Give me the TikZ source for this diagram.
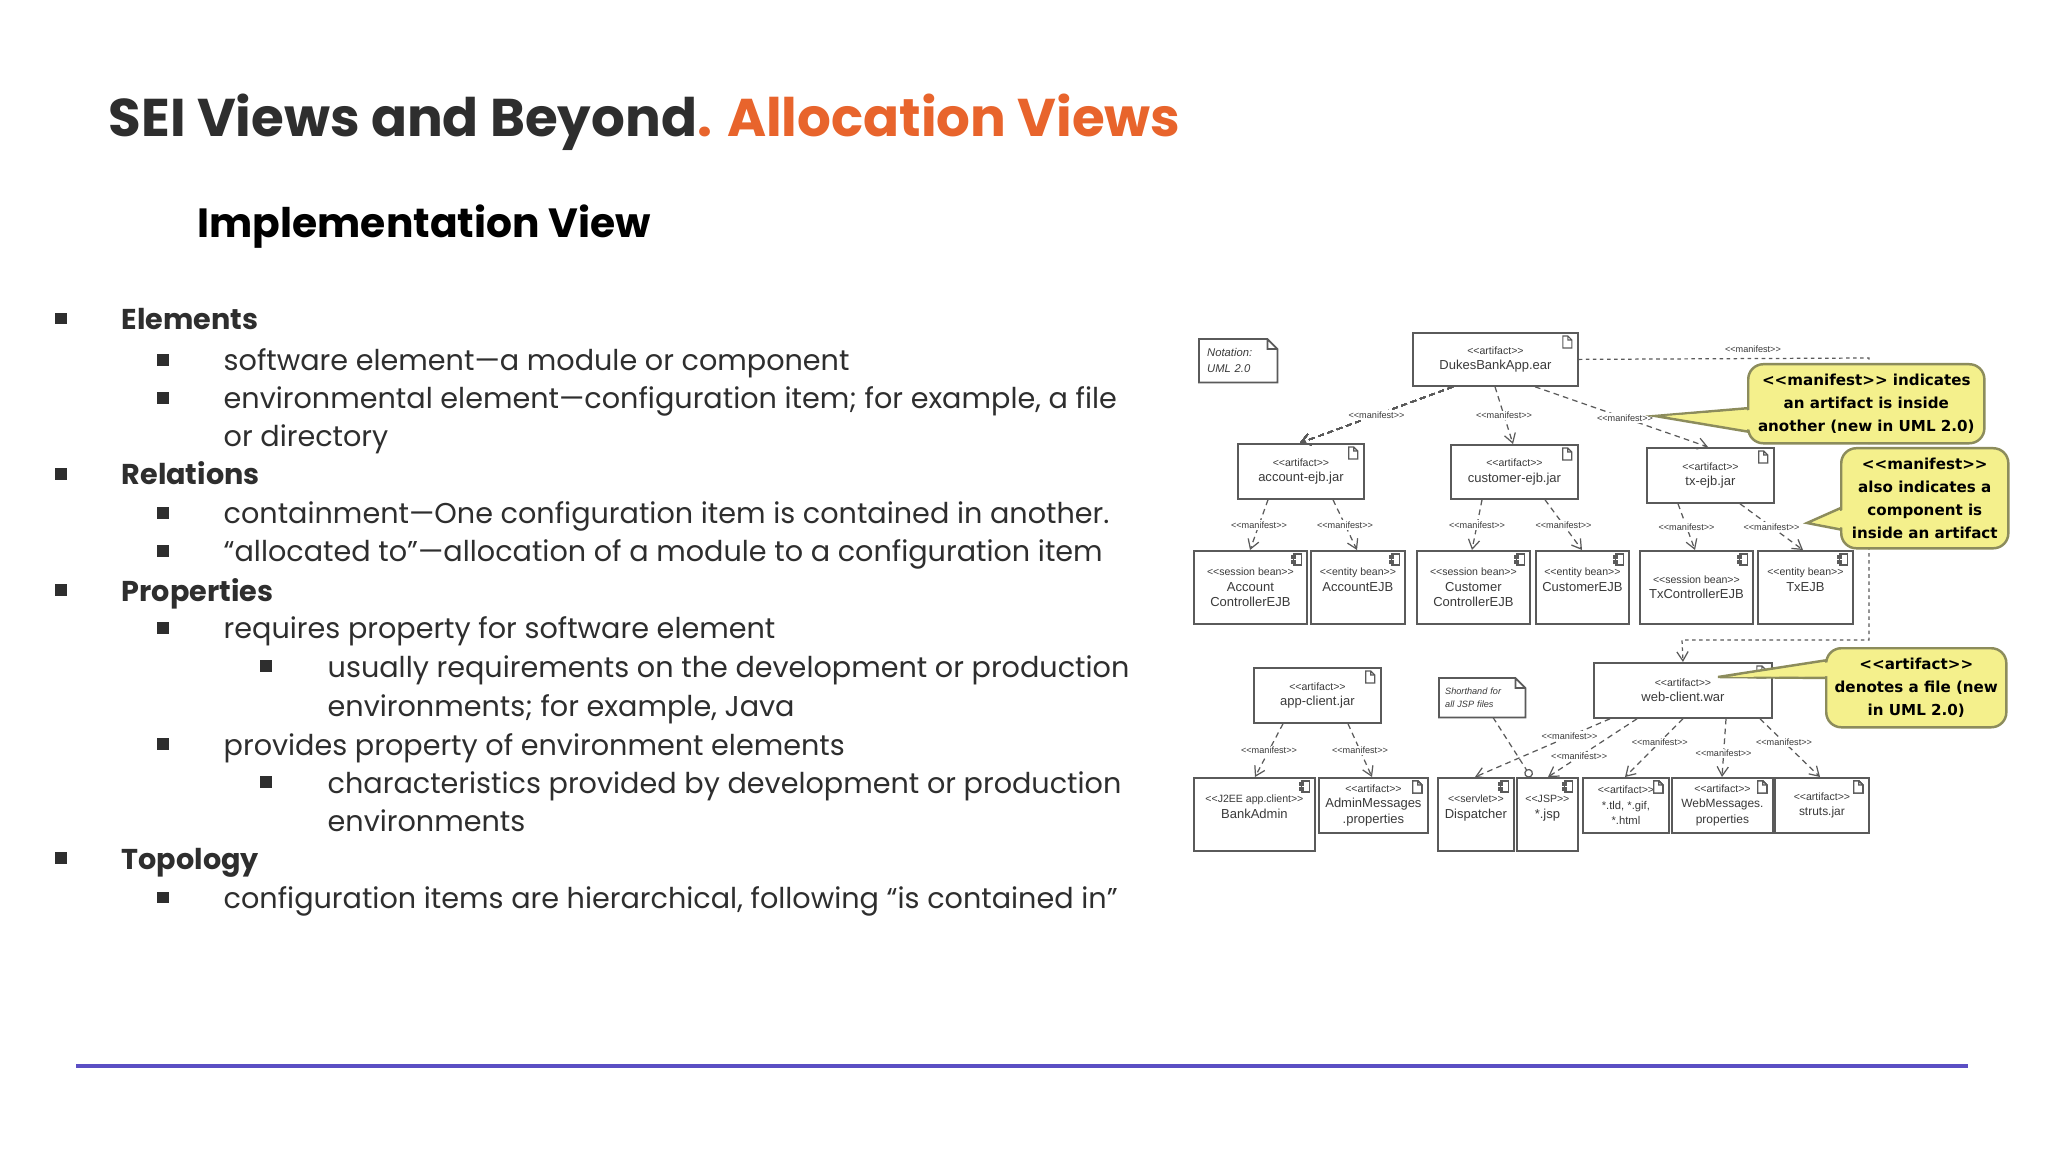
\documentclass[tikz,border=0pt]{standalone}
\usepackage{fontspec}
\setmainfont{Poppins}
\newfontfamily\dfont{Liberation Sans}
\newfontfamily\cfont{DejaVu Sans}
\usetikzlibrary{arrows.meta,calc}
\definecolor{txt}{HTML}{2E2E2E}
\definecolor{orng}{HTML}{E8642C}
\definecolor{purp}{HTML}{5B4FC4}
\definecolor{boxc}{HTML}{5A5A5A}
\definecolor{boxt}{HTML}{3A3A3A}
\definecolor{yel}{HTML}{F4F08C}
\definecolor{yelb}{HTML}{8C8C5C}
\tikzset{
 l1/.style={anchor=base west,font=\fontsize{8.15}{10}\selectfont\bfseries,text=txt,inner sep=0},
 l2/.style={anchor=base west,font=\fontsize{8.15}{10}\selectfont,text=txt,inner sep=0},
 bul/.style={fill=txt,minimum size=0.11cm,inner sep=0},
 box/.style={draw=boxc,fill=white,line width=0.5pt,align=center,text=boxt,inner sep=0,anchor=north west,font=\dfont\fontsize{3.7}{4.4}\selectfont},
 icon/.style={draw=boxc,line width=0.35pt,fill=white},
 mf/.style={draw=boxc,line width=0.35pt,dash pattern=on 1.6pt off 1.2pt,-{Straight Barb[length=2.6pt,width=3.2pt]}},
 lbl/.style={fill=white,inner sep=0.4pt,text=boxt,font=\dfont\fontsize{2.6}{3}\selectfont},
 call/.style={fill=yel,draw=yelb,line width=0.7pt,rounded corners=0.15cm,align=center,anchor=north west,inner sep=0,font=\cfont\bfseries\fontsize{4.3}{6.6}\selectfont},
 note/.style={anchor=north west,inner sep=0,align=left,text=boxt,font=\dfont\itshape\fontsize{3.2}{4.4}\selectfont}
}
\newcommand\ster[1]{{\fontsize{3}{4.4}\selectfont #1}}
\newcommand\docicon[1]{\draw[icon,shift={(#1.north east)}] (-16,4) -- (-16,16) -- (-7,16) -- (-7,8) -- (-11,4) -- cycle (-11,4) -- (-11,8) -- (-7,8);}
\newcommand\compicon[1]{\draw[icon,shift={(#1.north east)}] (-14,4) rectangle (-6,15) (-16,6) rectangle (-12,8) (-16,11) rectangle (-12,13);}
\begin{document}
\begin{tikzpicture}[x=0.01cm,y=-0.01cm]
\useasboundingbox[fill=white] (0,0) rectangle (2048,1152);
% titles
\node[anchor=base west,inner sep=0,font=\fontsize{15.1}{18}\selectfont\bfseries] (title) at (108,137) {\textcolor{txt}{SEI Views and Beyond}\textcolor{orng}{. Allocation Views}};
\node[anchor=base west,inner sep=0,font=\fontsize{11.6}{14}\selectfont\bfseries,text=black] (sub) at (197,238) {Implementation View};
% bullets
\foreach \y/\n in {330/a,485/b,601/c,869/d} \node[bul] (ba\n) at (61,\y-11) {};
\foreach \y/\n in {371/a,409/b,524/c,562/d,639/e,755/f,908/g} \node[bul] (bb\n) at (163,\y-11) {};
\foreach \y/\n in {677/a,793/b} \node[bul] (bc\n) at (266,\y-11) {};
\node[l1] (t1) at (121,330) {Elements};
\node[l2] (t2) at (223,371) {software element—a module or component};
\node[l2] (t3) at (223,409) {environmental element—configuration item; for example, a file};
\node[l2] (t4) at (223,447) {or directory};
\node[l1] (t5) at (121,485) {Relations};
\node[l2] (t6) at (223,524) {containment—One configuration item is contained in another.};
\node[l2] (t7) at (223,562) {“allocated to”—allocation of a module to a configuration item};
\node[l1] (t8) at (121,601) {Properties};
\node[l2] (t9) at (223,639) {requires property for software element};
\node[l2] (t10) at (327,677) {usually requirements on the development or production};
\node[l2] (t11) at (327,716) {environments; for example, Java};
\node[l2] (t12) at (223,755) {provides property of environment elements};
\node[l2] (t13) at (327,793) {characteristics provided by development or production};
\node[l2] (t14) at (327,831) {environments};
\node[l1] (t15) at (121,869) {Topology};
\node[l2] (t16) at (223,908) {configuration items are hierarchical, following “is contained in”};
% bottom line
\coordinate (la) at (76,1066); \coordinate (lb) at (1968,1066);
\draw[purp,line width=1.3pt] (la) -- (lb);
% ===== diagram =====
% notes
\node[note,minimum width=0.77cm,minimum height=0.42cm,text width=0.7cm] (nota) at (1199,339) {\hspace*{0.04cm}Notation:\\\hspace*{0.04cm}UML 2.0};
\draw[boxc,line width=0.5pt] (nota.north west) -- ($(nota.north east)+(-10,0)$) -- ($(nota.north east)+(0,10)$) -- (nota.south east) -- (nota.south west) -- cycle ($(nota.north east)+(-10,0)$) -- ($(nota.north east)+(-10,10)$) -- ($(nota.north east)+(0,10)$);
\node[note,minimum width=0.85cm,minimum height=0.38cm,text width=0.8cm,font=\dfont\itshape\fontsize{2.6}{3.6}\selectfont] (notb) at (1439,678) {\hspace*{0.03cm}Shorthand for\\\hspace*{0.03cm}all JSP files};
\draw[boxc,line width=0.5pt] (notb.north west) -- ($(notb.north east)+(-10,0)$) -- ($(notb.north east)+(0,10)$) -- (notb.south east) -- (notb.south west) -- cycle ($(notb.north east)+(-10,0)$) -- ($(notb.north east)+(-10,10)$) -- ($(notb.north east)+(0,10)$);
% artifact boxes
\node[box,minimum width=1.65cm,minimum height=0.53cm] (dukes) at (1412,332) {\ster{<<artifact>>}\\DukesBankApp.ear};
\node[box,minimum width=1.26cm,minimum height=0.55cm] (acc) at (1237,443) {\ster{<<artifact>>}\\account-ejb.jar};
\node[box,minimum width=1.27cm,minimum height=0.54cm] (cus) at (1450,444) {\ster{<<artifact>>}\\customer-ejb.jar};
\node[box,minimum width=1.27cm,minimum height=0.55cm] (tx) at (1646,447) {\ster{<<artifact>>}\\tx-ejb.jar};
\node[box,minimum width=1.27cm,minimum height=0.55cm] (app) at (1253,667) {\ster{<<artifact>>}\\app-client.jar};
\node[box,minimum width=1.78cm,minimum height=0.55cm] (web) at (1593,662) {\ster{<<artifact>>}\\web-client.war};
\foreach \n in {dukes,acc,cus,tx,app,web} \docicon{\n}
% bean boxes
\node[box,minimum width=1.13cm,minimum height=0.73cm] (accc) at (1193,550) {\ster{<<session bean>>}\\Account\\ControllerEJB};
\node[box,minimum width=0.94cm,minimum height=0.73cm] (acce) at (1310,550) {\ster{<<entity bean>>}\\AccountEJB\\~};
\node[box,minimum width=1.13cm,minimum height=0.73cm] (cusc) at (1416,550) {\ster{<<session bean>>}\\Customer\\ControllerEJB};
\node[box,minimum width=0.93cm,minimum height=0.73cm] (cuse) at (1535,550) {\ster{<<entity bean>>}\\CustomerEJB\\~};
\node[box,minimum width=1.13cm,minimum height=0.73cm] (txc) at (1639,550) {\ster{<<session bean>>}\\TxControllerEJB};
\node[box,minimum width=0.95cm,minimum height=0.73cm] (txe) at (1757,550) {\ster{<<entity bean>>}\\TxEJB\\~};
\node[box,minimum width=1.21cm,minimum height=0.73cm] (bank) at (1193,777) {\ster{<<J2EE app.client>>}\\BankAdmin\\~};
\node[box,minimum width=1.09cm,minimum height=0.55cm] (adm) at (1318,777) {\ster{<<artifact>>}\\AdminMessages\\.properties};
\node[box,minimum width=0.76cm,minimum height=0.73cm] (disp) at (1437,777) {\ster{<<servlet>>}\\Dispatcher\\~};
\node[box,minimum width=0.61cm,minimum height=0.73cm] (jsp) at (1516,777) {\ster{<<JSP>>}\\*.jsp\\~};
\node[box,minimum width=0.86cm,minimum height=0.55cm,font=\dfont\fontsize{3.2}{4.4}\selectfont] (tld) at (1582,777) {\ster{<<artifact>>}\\*.tld, *.gif,\\*.html};
\node[box,minimum width=1.01cm,minimum height=0.55cm,font=\dfont\fontsize{3.4}{4.4}\selectfont] (wmsg) at (1671,777) {\ster{<<artifact>>}\\WebMessages.\\properties};
\node[box,minimum width=0.94cm,minimum height=0.55cm,font=\dfont\fontsize{3.4}{4.4}\selectfont] (str) at (1774,777) {\ster{<<artifact>>}\\struts.jar};
\foreach \n in {accc,acce,cusc,cuse,txc,txe,bank,disp,jsp} \compicon{\n}
\foreach \n in {adm,tld,wmsg,str} \docicon{\n}
% manifest connectors
\draw[mf] ($(dukes.south west)+(41,0)$) -- node[lbl]{<<manifest>>} ($(acc.north west)+(63,0)$);
\draw[mf] ($(dukes.south west)+(83,0)$) -- node[lbl]{<<manifest>>} ($(cus.north west)+(63,0)$);
\draw[mf] ($(dukes.south west)+(123,0)$) -- node[lbl,pos=0.52]{<<manifest>>} ($(tx.north west)+(62,0)$);
\draw[mf] ($(acc.south west)+(31,0)$) -- node[lbl]{<<manifest>>} ($(accc.north west)+(57,0)$);
\draw[mf] ($(acc.south west)+(96,0)$) -- node[lbl]{<<manifest>>} ($(acce.north west)+(47,0)$);
\draw[mf] ($(cus.south west)+(32,0)$) -- node[lbl]{<<manifest>>} ($(cusc.north west)+(56,0)$);
\draw[mf] ($(cus.south west)+(95,0)$) -- node[lbl]{<<manifest>>} ($(cuse.north west)+(47,0)$);
\draw[mf] ($(tx.south west)+(32,0)$) -- node[lbl]{<<manifest>>} ($(txc.north west)+(56,0)$);
\draw[mf] ($(tx.south west)+(94,0)$) -- node[lbl]{<<manifest>>} ($(txe.north west)+(46,0)$);
\draw[mf] ($(app.south west)+(30,0)$) -- node[lbl]{<<manifest>>} ($(bank.north west)+(62,0)$);
\draw[mf] ($(app.south west)+(95,0)$) -- node[lbl]{<<manifest>>} ($(adm.north west)+(54,0)$);
\draw[mf] ($(web.south west)+(17,0)$) -- node[lbl,pos=0.3]{<<manifest>>} ($(disp.north west)+(38,0)$);
\draw[mf] ($(web.south west)+(44,0)$) -- node[lbl,pos=0.65]{<<manifest>>} ($(jsp.north west)+(32,0)$);
\draw[mf] (web.south) -- node[lbl,pos=0.4]{<<manifest>>} ($(tld.north west)+(43,0)$);
\draw[mf] ($(web.south west)+(133,0)$) -- node[lbl,pos=0.6]{<<manifest>>} ($(wmsg.north west)+(51,0)$);
\draw[mf] ($(web.south west)+(167,0)$) -- node[lbl,pos=0.4]{<<manifest>>} ($(str.north west)+(46,0)$);
\draw[boxc,line width=0.35pt,dash pattern=on 1.6pt off 1.2pt,-{Circle[open,length=2.5pt]}] ($(notb.south west)+(54,0)$) -- ($(jsp.north west)+(15,0)$);
% long manifest
\coordinate (c1) at (1869,358); \coordinate (c2) at (1869,640); \coordinate (c3) at (1682,640);
\draw[mf,dash pattern=on 1pt off 1pt] (dukes.east) -- node[lbl,fill=none,above=1pt,pos=0.6]{<<manifest>>} (c1) -- (c2) -- (c3) -- (web.north);
% callouts
\coordinate (p1) at (1655,416); \coordinate (p2) at (1807,523); \coordinate (p3) at (1718,677);
\fill[yel,draw=yelb,line width=0.7pt] (p1) -- (1750,408) -- (1750,432) -- cycle;
\fill[yel,draw=yelb,line width=0.7pt] (p2) -- (1843,507) -- (1843,530) -- cycle;
\fill[yel,draw=yelb,line width=0.7pt] (p3) -- (1828,660) -- (1828,678) -- cycle;
\node[call,minimum width=2.36cm,minimum height=0.79cm] (cal1) at (1747,363) {<<manifest>> indicates\\an artifact is inside\\another (new in UML 2.0)};
\node[call,minimum width=1.67cm,minimum height=1.0cm] (cal2) at (1840,447) {<<manifest>>\\also indicates a\\component is\\inside an artifact};
\node[call,minimum width=1.80cm,minimum height=0.79cm] (cal3) at (1825,647) {<<artifact>>\\denotes a file (new\\in UML 2.0)};
\fill[yel] (1665,416) -- (1752,410) -- (1752,430) -- cycle;
\fill[yel] (1815,523) -- (1845,509) -- (1845,528) -- cycle;
\fill[yel] (1728,677) -- (1830,662) -- (1830,676) -- cycle;
\end{tikzpicture}
\end{document}
